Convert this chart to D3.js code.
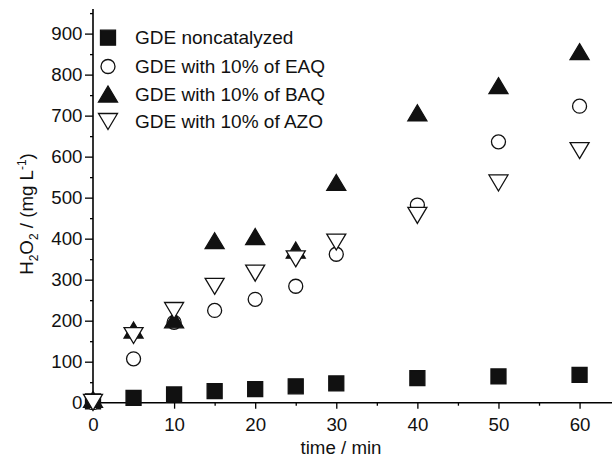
<!DOCTYPE html>
<html>
<head>
<meta charset="utf-8">
<script src="https://cdn.jsdelivr.net/npm/d3@7/dist/d3.min.js"></script>
<style>
  html, body { margin: 0; padding: 0; background: #fff; }
  svg { display: block; }
  text { font-family: "Liberation Sans", Arial, Helvetica, sans-serif; fill: #111; }
</style>
</head>
<body>
<svg id="chart" width="612" height="457"></svg>
<script>
// ---- data ----
const times = [0, 5, 10, 15, 20, 25, 30, 40, 50, 60];
const noncatalyzed = [3, 12, 20, 28, 33, 40, 47, 60, 64, 68];
const withEAQ = [0, 107, 196, 225, 252, 284, 362, 482, 636, 723];
const withBAQ = [8, 177, 202, 395, 405, 372, 537, 707, 773, 856];
const withAZO = [2, 165, 226, 285, 317, 352, 393, 458, 537, 616];
const seriesNames = ["GDE noncatalyzed", "GDE with 10% of EAQ", "GDE with 10% of BAQ", "GDE with 10% of AZO"];
const xTicks = [0, 10, 20, 30, 40, 50, 60];
const xMinorTicks = [5, 15, 25, 35, 45, 55];
const yTicks = [0, 100, 200, 300, 400, 500, 600, 700, 800, 900];
const yMinorTicks = [50, 150, 250, 350, 450, 550, 650, 750, 850, 950];

// ---- layout ----
const svg = d3.select("#chart");
const x = d3.scaleLinear().domain([0, 64]).range([93, 612]);
const y = d3.scaleLinear().domain([0, 960]).range([402.7, 9]);

const fontSize = 19;
const tickFont = 18.7;

// ---- axes ----
const xAxis = svg.append("g").attr("transform", `translate(0,${y(0)})`)
  .call(d3.axisBottom(x).tickValues(xTicks).tickSize(6).tickPadding(9).tickFormat(d3.format("d")));
const xMinor = svg.append("g").attr("transform", `translate(0,${y(0)})`)
  .call(d3.axisBottom(x).tickValues(xMinorTicks).tickSize(3).tickFormat(""));
const yAxis = svg.append("g").attr("transform", `translate(${x(0)},0)`)
  .call(d3.axisLeft(y).tickValues(yTicks).tickSize(8).tickPadding(2.5).tickFormat(d3.format("d")));
const yMinor = svg.append("g").attr("transform", `translate(${x(0)},0)`)
  .call(d3.axisLeft(y).tickValues(yMinorTicks).tickSize(3).tickFormat(""));

[xAxis, xMinor, yAxis, yMinor].forEach(g => {
  g.selectAll(".domain").attr("stroke", "#000").attr("stroke-width", 1.6);
  g.selectAll(".tick line").attr("stroke", "#000").attr("stroke-width", 1.3);
  g.selectAll(".tick text").style("font-size", tickFont + "px").attr("fill", "#111")
    .style("font-family", '"Liberation Sans", Arial, sans-serif');
});
xMinor.select(".domain").remove();
yMinor.select(".domain").remove();
yAxis.select(".domain").attr("d", `M0,${y(960)}V${y(0)}`);
xAxis.select(".domain").attr("d", `M${x(0)},0H${x(64)}`);

// axis titles
svg.append("text")
  .attr("x", 341).attr("y", 454)
  .attr("text-anchor", "middle")
  .style("font-size", tickFont + "px")
  .text("time / min");

const yt = svg.append("text")
  .attr("transform", `translate(33,214) rotate(-90)`)
  .attr("text-anchor", "middle")
  .style("font-size", tickFont + "px");
yt.append("tspan").text("H");
yt.append("tspan").text("2").attr("dy", 5).style("font-size", "12px");
yt.append("tspan").text("O").attr("dy", -5);
yt.append("tspan").text("2").attr("dy", 5).style("font-size", "12px");
yt.append("tspan").text(" / (mg L").attr("dy", -5);
yt.append("tspan").text("-1").attr("dy", -7).style("font-size", "12px");
yt.append("tspan").text(")").attr("dy", 7);

// ---- marker shapes ----
const shapes = {
  square: { d: "M-7.5,-7.5H7.5V7.5H-7.5Z", fill: "#111", stroke: "#111" },
  circle: { d: d3.arc()({ innerRadius: 0, outerRadius: 7, startAngle: 0, endAngle: 2 * Math.PI }), fill: "#fff", stroke: "#111" },
  up: { d: "M0,-8L9.5,8H-9.5Z", fill: "#111", stroke: "#111" },
  down: { d: "M0,8.5L9.5,-7.5H-9.5Z", fill: "#fff", stroke: "#111" }
};

const series = [
  { name: seriesNames[0], values: noncatalyzed, shape: "square" },
  { name: seriesNames[1], values: withEAQ, shape: "circle" },
  { name: seriesNames[2], values: withBAQ, shape: "up" },
  { name: seriesNames[3], values: withAZO, shape: "down" }
];

series.forEach(s => {
  const sh = shapes[s.shape];
  svg.append("g").selectAll("path")
    .data(times.map((t, i) => ({ t, v: s.values[i] })))
    .join("path")
    .attr("transform", d => `translate(${x(d.t)},${y(d.v)})`)
    .attr("d", sh.d)
    .attr("fill", sh.fill)
    .attr("stroke", sh.stroke)
    .attr("stroke-width", 1.3);
});

// ---- legend ----
const legend = svg.append("g");
const legendY = [37.7, 66.5, 94, 121];
series.forEach((s, i) => {
  const sh = shapes[s.shape];
  legend.append("path")
    .attr("transform", `translate(108,${legendY[i]})`)
    .attr("d", sh.d)
    .attr("fill", sh.fill).attr("stroke", sh.stroke).attr("stroke-width", 1.3);
  legend.append("text")
    .attr("x", 135).attr("y", legendY[i] + 6.7)
    .style("font-size", fontSize + "px")
    .text(s.name);
});
</script>
</body>
</html>
